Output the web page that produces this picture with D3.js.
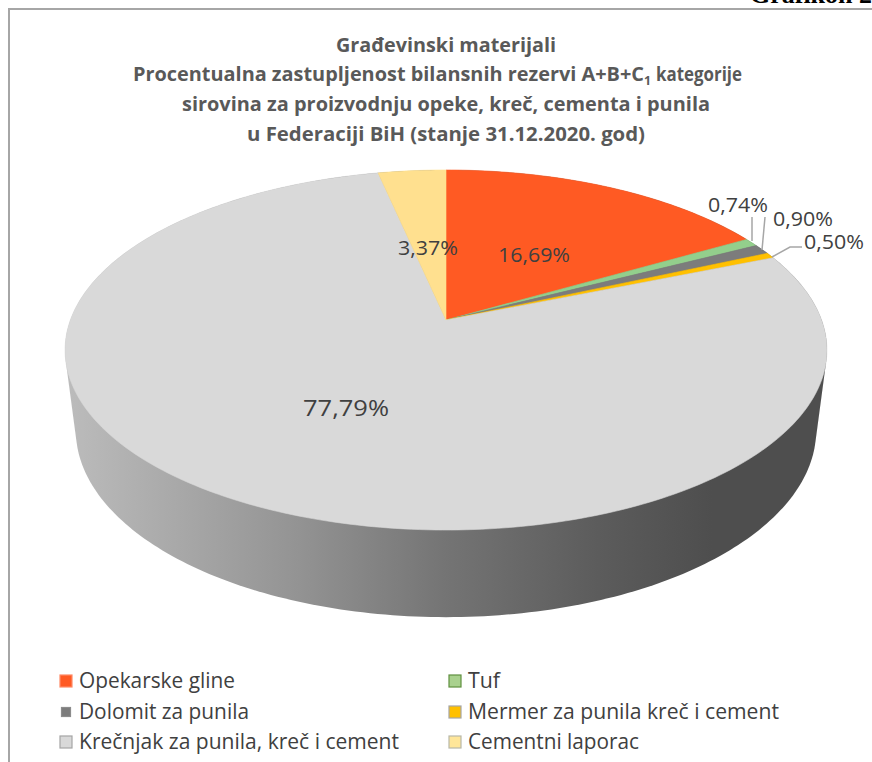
<!DOCTYPE html>
<html><head><meta charset="utf-8">
<script src="https://cdn.jsdelivr.net/npm/d3@7"></script>
<style>html,body{margin:0;padding:0;background:#fff;overflow:hidden}svg{display:block}</style>
</head><body><svg id="c" width="872" height="762"></svg>
<script>
const categories=["Opekarske gline","Tuf","Dolomit za punila","Mermer za punila kreč i cement","Krečnjak za punila, kreč i cement","Cementni laporac"];
const values=[16.69,0.74,0.90,0.50,77.79,3.37];
const labels=["16,69%","0,74%","0,90%","0,50%","77,79%","3,37%"];
const colors=["#ff5a23","#93cf8c","#7c7c7c","#ffc000","#d9d9d9","#ffe08f"];
const swatchFill=["#ff5a23","#a9d18e","#7c7c7c","#ffc000","#d9d9d9","#ffe699"];
const swatchEdges=["#ff8a66","#5f8f3f","#8c8c8c","#a5a5a5","#a5a5a5","#b8b8a8"];
const titleLines=["Građevinski materijali","Procentualna zastupljenost bilansnih rezervi A+B+C","sirovina za proizvodnju opeke, kreč, cementa i punila","u Federaciji BiH (stanje 31.12.2020. god)"];
const svg=d3.select("#c");
const font="'Open Sans',sans-serif";

// perspective disc projection
const K=1/6;
const project=(a,cy,A,B)=>{const u=Math.sin(a),v=Math.cos(a),w=1+K*v;return [446+A*u/w,cy-B*v/w];};
const top_=a=>project(a,320,375.6,175);
const bot=a=>project(a,399,365,181.8);
const circle=d3.range(0,361,1).map(d=>d*Math.PI/180);

// side gradient
const defs=svg.append("defs");
const g=defs.append("linearGradient").attr("id","side").attr("gradientUnits","userSpaceOnUse").attr("x1",65).attr("x2",827).attr("y1",0).attr("y2",0);
[[0,"#bcbcbc"],[0.3,"#949494"],[0.5,"#747474"],[0.7,"#5c5c5c"],[0.85,"#4e4e4e"],[1,"#4e4e4e"]].forEach(s=>g.append("stop").attr("offset",s[0]).attr("stop-color",s[1]));

// frame
svg.append("path").attr("d","M9,762V9H872").attr("fill","none").attr("stroke","#a6a6a6").attr("stroke-width",2);
svg.append("text").text("Grafikon 2").attr("x",750).attr("y",3).attr("font-family","'Liberation Serif',serif").attr("font-weight","bold").attr("font-size",25).attr("fill","#000").attr("textLength",122).attr("lengthAdjust","spacingAndGlyphs");

// side
const hull=d3.polygonHull(circle.map(top_).concat(circle.map(bot)));
svg.append("path").attr("d",d3.line()(hull)+"Z").attr("fill","url(#side)");

// top slices
const pie=d3.pie().sort(null)(values);
const line=d3.line();
pie.forEach((p,i)=>{
  const n=Math.max(2,Math.ceil((p.endAngle-p.startAngle)*180/Math.PI));
  const pts=[[446,320]];
  d3.range(n+1).forEach(k=>pts.push(top_(p.startAngle+(p.endAngle-p.startAngle)*k/n)));
  svg.append("path").attr("d",line(pts)+"Z").attr("fill",colors[i]).attr("stroke",colors[i]).attr("stroke-width",0.6);
});

// title
const titleText=(t,x,y,len,size)=>svg.append("text").text(t).attr("x",x).attr("y",y).attr("font-family",font).attr("font-weight",700).attr("font-size",size).attr("fill","#595959").attr("textLength",len).attr("lengthAdjust","spacingAndGlyphs");
const tw=[220,511,528,398];
const ty=[52,81,111,141];
titleLines.forEach((t,i)=>{
  if(i==1){
    titleText(t,133,ty[i],tw[i],20);
    titleText("1",644,ty[i]+4,7,12);
    titleText("kategorije",656,ty[i],86,20);
  } else titleText(t,446-tw[i]/2,ty[i],tw[i],20);
});

// leader lines
[[[752,217],[752,241]],[[765,217],[762,250]],[[802,247],[790,247],[772,257]]].forEach(l=>
  svg.append("path").attr("d",line(l)).attr("fill","none").attr("stroke","#a6a6a6").attr("stroke-width",1.5));

// data labels
const labelPos=[[534,262],[738,212],[803,226],[834,249],[346,416],[428,255]];
const labelW=[72,60,60,60,86,60];
labels.forEach((t,i)=>svg.append("text").text(t).attr("x",labelPos[i][0]-labelW[i]/2).attr("y",labelPos[i][1]).attr("font-family",font).attr("font-size",i==4?21:20).attr("fill","#404040").attr("textLength",labelW[i]).attr("lengthAdjust","spacingAndGlyphs"));

// legend
const legX=[60,449],textX=[79,468],legY=[681,712,742];
const legW=[156,32,170,311,320,171];
categories.forEach((c,i)=>{
  const col=i%2,row=Math.floor(i/2);
  const s=i==2?9:12;
  svg.append("rect").attr("x",legX[col]+(12-s)/2).attr("y",legY[row]-s/2).attr("width",s).attr("height",s).attr("fill",swatchFill[i]).attr("stroke",swatchEdges[i]).attr("stroke-width",1.2);
  svg.append("text").text(c).attr("x",textX[col]).attr("y",legY[row]+7).attr("font-family",font).attr("font-size",21).attr("fill","#404040").attr("textLength",legW[i]).attr("lengthAdjust","spacingAndGlyphs");
});
</script></body></html>
